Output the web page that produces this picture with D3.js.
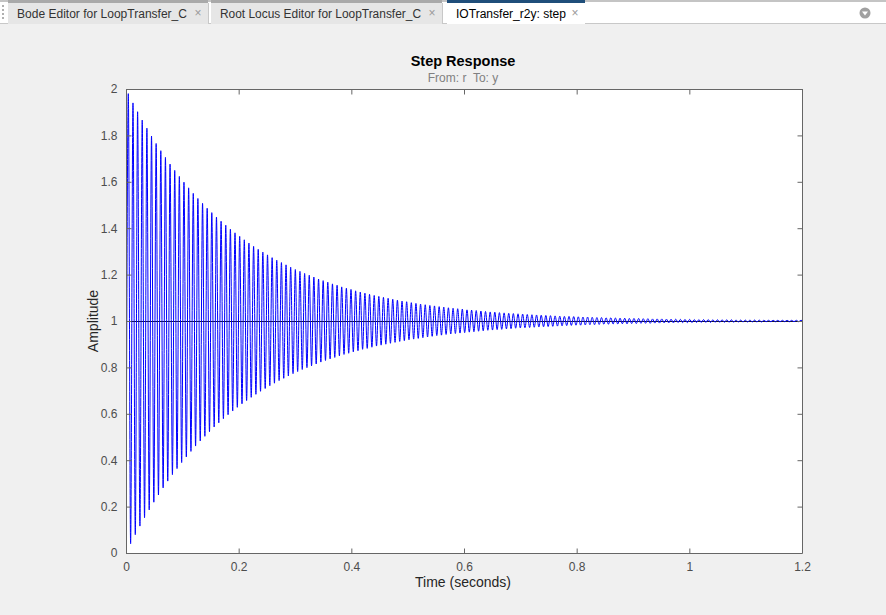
<!DOCTYPE html>
<html>
<head>
<meta charset="utf-8">
<script src="https://cdn.jsdelivr.net/npm/d3@7/dist/d3.min.js"></script>
<style>
html,body{margin:0;padding:0;background:#f0f0f0;}
svg{display:block;font-family:"Liberation Sans",Arial,sans-serif;}
text{white-space:pre;}
</style>
</head>
<body>
<svg id="chart" width="886" height="615"></svg>
<script>
// ---- data ----
const tabLabels = ["Bode Editor for LoopTransfer_C", "Root Locus Editor for LoopTransfer_C", "IOTransfer_r2y: step"];
const xTicks = [0, 0.2, 0.4, 0.6, 0.8, 1, 1.2];
const yTicks = [0, 0.2, 0.4, 0.6, 0.8, 1, 1.2, 1.4, 1.6, 1.8, 2];
const steadyState = [1];
const stepTime = [0,
0.0041,0.0082,0.0124,0.0165,0.0206,0.0247,0.0288,0.0329,0.0371,0.0412,
0.0453,0.0494,0.0535,0.0576,0.0618,0.0659,0.0700,0.0741,0.0782,0.0824,
0.0865,0.0906,0.0947,0.0988,0.1029,0.1071,0.1112,0.1153,0.1194,0.1235,
0.1276,0.1318,0.1359,0.1400,0.1441,0.1482,0.1523,0.1565,0.1606,0.1647,
0.1688,0.1729,0.1771,0.1812,0.1853,0.1894,0.1935,0.1976,0.2018,0.2059,
0.2100,0.2141,0.2182,0.2223,0.2265,0.2306,0.2347,0.2388,0.2429,0.2471,
0.2512,0.2553,0.2594,0.2635,0.2676,0.2718,0.2759,0.2800,0.2841,0.2882,
0.2923,0.2965,0.3006,0.3047,0.3088,0.3129,0.3171,0.3212,0.3253,0.3294,
0.3335,0.3376,0.3418,0.3459,0.3500,0.3541,0.3582,0.3623,0.3665,0.3706,
0.3747,0.3788,0.3829,0.3870,0.3912,0.3953,0.3994,0.4035,0.4076,0.4118,
0.4159,0.4200,0.4241,0.4282,0.4323,0.4365,0.4406,0.4447,0.4488,0.4529,
0.4570,0.4612,0.4653,0.4694,0.4735,0.4776,0.4818,0.4859,0.4900,0.4941,
0.4982,0.5023,0.5065,0.5106,0.5147,0.5188,0.5229,0.5270,0.5312,0.5353,
0.5394,0.5435,0.5476,0.5517,0.5559,0.5600,0.5641,0.5682,0.5723,0.5765,
0.5806,0.5847,0.5888,0.5929,0.5970,0.6012,0.6053,0.6094,0.6135,0.6176,
0.6217,0.6259,0.6300,0.6341,0.6382,0.6423,0.6465,0.6506,0.6547,0.6588,
0.6629,0.6670,0.6712,0.6753,0.6794,0.6835,0.6876,0.6917,0.6959,0.7000,
0.7041,0.7082,0.7123,0.7165,0.7206,0.7247,0.7288,0.7329,0.7371,0.7412,
0.7453,0.7494,0.7535,0.7576,0.7617,0.7659,0.7700,0.7741,0.7782,0.7823,
0.7864,0.7906,0.7947,0.7988,0.8029,0.8070,0.8112,0.8153,0.8194,0.8235,
0.8276,0.8317,0.8359,0.8400,0.8441,0.8482,0.8523,0.8564,0.8606,0.8647,
0.8688,0.8729,0.8770,0.8811,0.8853,0.8894,0.8935,0.8976,0.9017,0.9059,
0.9100,0.9141,0.9182,0.9223,0.9264,0.9306,0.9347,0.9388,0.9429,0.9470,
0.9511,0.9553,0.9594,0.9635,0.9676,0.9717,0.9759,0.9800,0.9841,0.9882,
0.9923,0.9964,1.0006,1.0047,1.0088,1.0129,1.0170,1.0211,1.0253,1.0294,
1.0335,1.0376,1.0417,1.0458,1.0500,1.0541,1.0582,1.0623,1.0664,1.0706,
1.0747,1.0788,1.0829,1.0870,1.0911,1.0953,1.0994,1.1035,1.1076,1.1117,
1.1158,1.1200,1.1241,1.1282,1.1323,1.1364,1.1406,1.1447,1.1488,1.1529,
1.1570,1.1611,1.1653,1.1694,1.1735,1.1776,1.1817,1.1858,1.1900,1.1941,
1.1982,1.2000];
const stepResponse = [0,
1.980,0.040,1.940,0.079,1.902,0.116,1.866,0.152,1.831,0.186,
1.797,0.219,1.765,0.250,1.734,0.281,1.705,0.310,1.676,0.338,
1.649,0.364,1.623,0.390,1.598,0.414,1.574,0.438,1.550,0.461,
1.528,0.483,1.507,0.503,1.486,0.523,1.467,0.543,1.448,0.561,
1.430,0.579,1.413,0.596,1.396,0.612,1.380,0.628,1.365,0.643,
1.350,0.657,1.336,0.671,1.322,0.684,1.309,0.697,1.297,0.709,
1.285,0.721,1.273,0.732,1.262,0.743,1.252,0.753,1.242,0.763,
1.232,0.773,1.222,0.782,1.214,0.791,1.205,0.799,1.197,0.807,
1.189,0.815,1.181,0.823,1.174,0.830,1.167,0.837,1.160,0.843,
1.154,0.850,1.147,0.856,1.141,0.861,1.136,0.867,1.130,0.872,
1.125,0.878,1.120,0.882,1.115,0.887,1.110,0.892,1.106,0.896,
1.102,0.900,1.098,0.904,1.094,0.908,1.090,0.912,1.086,0.915,
1.083,0.919,1.079,0.922,1.076,0.925,1.073,0.928,1.070,0.931,
1.067,0.934,1.065,0.937,1.062,0.939,1.060,0.942,1.057,0.944,
1.055,0.946,1.053,0.948,1.051,0.950,1.048,0.952,1.047,0.954,
1.045,0.956,1.043,0.958,1.041,0.960,1.039,0.961,1.038,0.963,
1.036,0.964,1.035,0.966,1.033,0.967,1.032,0.969,1.031,0.970,
1.030,0.971,1.028,0.972,1.027,0.973,1.026,0.974,1.025,0.975,
1.024,0.976,1.023,0.977,1.022,0.978,1.021,0.979,1.020,0.980,
1.020,0.981,1.019,0.982,1.018,0.982,1.017,0.983,1.017,0.984,
1.016,0.984,1.015,0.985,1.015,0.986,1.014,0.986,1.014,0.987,
1.013,0.987,1.012,0.988,1.012,0.988,1.011,0.989,1.011,0.989,
1.011,0.990,1.010,0.990,1.010,0.990,1.009,0.991,1.009,0.991,
1.009,0.992,1.008,0.992,1.008,0.992,1.008,0.993,1.007,0.993,
1.007,0.993,1.007,0.993,1.006,0.994,1.006,0.994,1.006,0.994,
1.006,0.994,1.005,0.995,1.005,0.995,1.005,0.995,1.005,0.995,
1.005,0.995,1.004,0.996,1.004,0.996,1.004,0.996,1.004,0.996,
1.004,0.996,1.004,0.996,1.003,0.997,1.003,0.997,1.003,0.997,
1.003,0.997,1.003,0.997,1.003,0.997,1.003,0.997,1.003,0.997,
1.003,1.002];

// ---- layout ----
const svg = d3.select("#chart");
const W = 886, H = 615;
const plot = {left: 126, right: 802, top: 89, bottom: 553};

// ---- tab strip ----
const tabs = svg.append("g");
tabs.append("rect").attr("x", 0).attr("y", 0).attr("width", W).attr("height", 24).attr("fill", "#ffffff");
tabs.append("rect").attr("x", 0).attr("y", 0).attr("width", W).attr("height", 2).attr("fill", "#c4c4c4");
tabs.append("rect").attr("x", 0).attr("y", 23).attr("width", W).attr("height", 1).attr("fill", "#c8c8c8");
[5, 9, 13, 17].forEach(yy => tabs.append("rect").attr("x", 2).attr("y", yy).attr("width", 2).attr("height", 2).attr("fill", "#b0b0b0"));
const tabBoxes = [{x: 8, w: 200, tw: 170}, {x: 211, w: 231, tw: 201}, {x: 447, w: 138, tw: 110}];
tabLabels.forEach((lbl, i) => {
  const b = tabBoxes[i];
  const active = i === 2;
  tabs.append("rect").attr("x", b.x).attr("y", 2).attr("width", b.w).attr("height", 22)
    .attr("fill", active ? "#ffffff" : "#e6e6e6");
  tabs.append("rect").attr("x", b.x).attr("y", 0).attr("width", b.w).attr("height", 3)
    .attr("fill", active ? "#1f4e7a" : "#a9a9a9");
  if (!active) {
    tabs.append("line").attr("x1", b.x + b.w + 0.5).attr("x2", b.x + b.w + 0.5).attr("y1", 3).attr("y2", 23).attr("stroke", "#c8c8c8");
  }
  tabs.append("text").attr("x", b.x + 9).attr("y", 18).attr("font-size", 12)
    .attr("textLength", b.tw).attr("lengthAdjust", "spacingAndGlyphs")
    .attr("fill", active ? "#000" : "#333").text(lbl);
  tabs.append("text").attr("x", b.x + b.w - 10).attr("y", 17).attr("font-size", 12)
    .attr("text-anchor", "middle").attr("fill", "#9a9a9a").text("×");
});
tabs.append("circle").attr("cx", 865).attr("cy", 13).attr("r", 5.5).attr("fill", "#a0a0a0");
tabs.append("path").attr("d", "M862,11.5 L868,11.5 L865,15.5 Z").attr("fill", "#ffffff");

// ---- scales ----
const x = d3.scaleLinear().domain([0, 1.2]).range([plot.left, plot.right]);
const y = d3.scaleLinear().domain([0, 2]).range([plot.bottom, plot.top]);

svg.append("rect").attr("x", plot.left).attr("y", plot.top)
  .attr("width", plot.right - plot.left).attr("height", plot.bottom - plot.top).attr("fill", "#ffffff");

const axisColor = "#666666";
const labelColor = "#4d4d4d";

svg.append("clipPath").attr("id", "clip").append("rect")
  .attr("x", plot.left).attr("y", plot.top)
  .attr("width", plot.right - plot.left).attr("height", plot.bottom - plot.top);

// steady-state line
svg.append("g").selectAll("line").data(steadyState).join("line")
  .attr("x1", x(0)).attr("x2", x(1.2))
  .attr("y1", d => Math.round(y(d)) + 0.5).attr("y2", d => Math.round(y(d)) + 0.5)
  .attr("stroke", "#1a1a1a").attr("stroke-width", 1);

// response curve
const pts = stepTime.map((t, i) => [t, stepResponse[i]]);
const line = d3.line().x(d => x(d[0])).y(d => y(d[1])).curve(d3.curveMonotoneX);
svg.append("path").datum(pts).attr("clip-path", "url(#clip)")
  .attr("d", line).attr("fill", "none").attr("stroke", "#0000ff").attr("stroke-width", 1);

// axes
const tickLen = 5;
const xAxisB = d3.axisBottom(x).tickValues(xTicks).tickSize(-tickLen).tickPadding(9).tickFormat(d3.format("~g"));
const xAxisT = d3.axisTop(x).tickValues(xTicks).tickSize(-tickLen).tickFormat("");
const yAxisL = d3.axisLeft(y).tickValues(yTicks).tickSize(-tickLen).tickPadding(9).tickFormat(d3.format("~g"));
const yAxisR = d3.axisRight(y).tickValues(yTicks).tickSize(-tickLen).tickFormat("");

function style(g) {
  g.select(".domain").attr("stroke", axisColor);
  g.selectAll(".tick line").attr("stroke", axisColor);
  g.selectAll(".tick text").attr("fill", labelColor).attr("font-size", 12)
    .attr("font-family", "'Liberation Sans', Arial, sans-serif");
}
svg.append("g").attr("transform", `translate(0,${plot.bottom + 0.5})`).call(xAxisB).call(style)
  .call(g => g.select(".domain").attr("d", `M${plot.left},0H${plot.right}`));
svg.append("g").attr("transform", `translate(0,${plot.top + 0.5})`).call(xAxisT).call(style)
  .call(g => g.select(".domain").attr("d", `M${plot.left},0H${plot.right}`));
svg.append("g").attr("transform", `translate(${plot.left + 0.5},0)`).call(yAxisL).call(style)
  .call(g => g.select(".domain").attr("d", `M0,${plot.bottom}V${plot.top}`));
svg.append("g").attr("transform", `translate(${plot.right + 0.5},0)`).call(yAxisR).call(style)
  .call(g => g.select(".domain").attr("d", `M0,${plot.bottom}V${plot.top}`));

// titles
svg.append("text").attr("x", 463).attr("y", 66).attr("text-anchor", "middle")
  .attr("font-size", 14.5).attr("font-weight", "bold").attr("fill", "#000").text("Step Response");
svg.append("text").attr("x", 463).attr("y", 82).attr("text-anchor", "middle")
  .attr("font-size", 12).attr("fill", "#808080").text("From: r  To: y");
svg.append("text").attr("x", 463).attr("y", 587).attr("text-anchor", "middle")
  .attr("font-size", 14).attr("fill", "#262626").text("Time (seconds)");
svg.append("text").attr("transform", "translate(98,321) rotate(-90)").attr("text-anchor", "middle")
  .attr("font-size", 14).attr("fill", "#262626").text("Amplitude");
</script>
</body>
</html>
